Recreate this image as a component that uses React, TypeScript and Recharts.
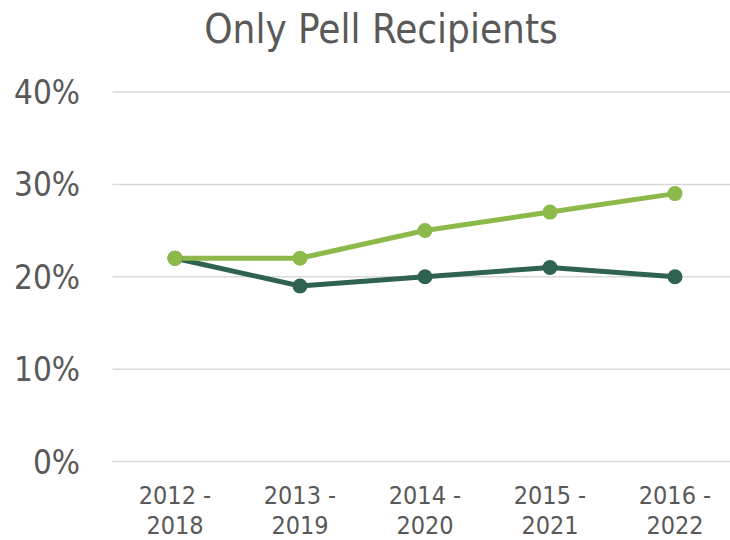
import React from 'react';
import { LineChart, Line, XAxis, YAxis, CartesianGrid } from 'recharts';

const categories = ['2012 - 2018', '2013 - 2019', '2014 - 2020', '2015 - 2021', '2016 - 2022'];
const lightSeries = [22, 22, 25, 27, 29];
const darkSeries = [22, 19, 20, 21, 20];
const yTicks = [0, 10, 20, 30, 40];

const data = categories.map((name, i) => ({ name, light: lightSeries[i], dark: darkSeries[i] }));

const FONT = "'Liberation Sans Narrow', 'DejaVu Sans Condensed', Lato, sans-serif";
const TEXT = '#595959';

const XTick = ({ x, payload }: any) => {
  const [a, b] = String(payload.value).split(' - ');
  return (
    <g>
      <text x={x} y={504} textAnchor="middle" fill={TEXT} fontSize={25} fontFamily={FONT}>{`${a} -`}</text>
      <text x={x} y={534} textAnchor="middle" fill={TEXT} fontSize={25} fontFamily={FONT}>{b}</text>
    </g>
  );
};

const YTick = ({ y, payload }: any) => (
  <text x={80} y={y} dy={12} textAnchor="end" fill={TEXT} fontSize={33} fontFamily={FONT}>
    {`${payload.value}%`}
  </text>
);

const App: React.FC = () => {
  return (
    <div style={{ position: 'absolute', left: 0, top: 0, width: 730, height: 540, overflow: 'hidden', background: '#fff' }}>
      <div
        style={{
          position: 'absolute',
          top: 6,
          left: 0,
          width: 762,
          textAlign: 'center',
          fontFamily: FONT,
          fontSize: 40,
          color: TEXT,
        }}
      >
        Only Pell Recipients
      </div>
      <LineChart width={737.5} height={540} data={data} margin={{ top: 92, right: 0, left: 0, bottom: 0 }}>
        <CartesianGrid vertical={false} stroke="#D9D9D9" strokeWidth={1.5} />
        <XAxis
          dataKey="name"
          height={78.5}
          tickLine={false}
          axisLine={false}
          tick={<XTick />}
          interval={0}
          padding={{ left: 62.5, right: 62.5 }}
        />
        <YAxis
          width={112.5}
          domain={[0, 40]}
          ticks={yTicks}
          tickLine={false}
          axisLine={false}
          tick={<YTick />}
        />
        <Line
          dataKey="dark"
          stroke="#2F6350"
          strokeWidth={5}
          dot={{ r: 7.5, fill: '#2F6350', stroke: '#2F6350', strokeWidth: 0 }}
          isAnimationActive={false}
        />
        <Line
          dataKey="light"
          stroke="#8DB94A"
          strokeWidth={5}
          dot={{ r: 7.5, fill: '#8DB94A', stroke: '#8DB94A', strokeWidth: 0 }}
          isAnimationActive={false}
        />
      </LineChart>
    </div>
  );
};

export default App;
